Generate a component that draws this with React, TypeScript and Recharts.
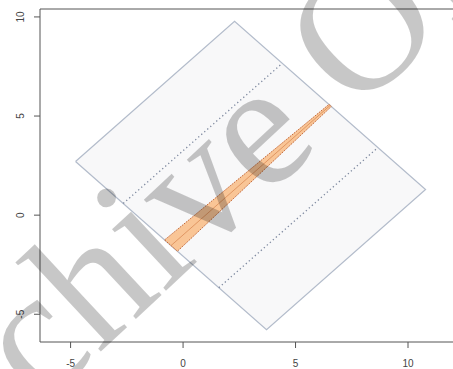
import { ComposedChart, Scatter, XAxis, YAxis } from "recharts";

const xDomain = [-6.36, 12.0];
const yDomain = [-6.4, 10.4];
const xTicks = [-5, 0, 5, 10];
const yTicks = [-5, 0, 5, 10];

// rotated rectangle (region)
const regionX = [-4.78, 2.29, 10.78, 3.71, -4.78];
const regionY = [2.71, 9.78, 1.29, -5.78, 2.71];

// orange wedge
const bandX = [-0.82, 6.49, 6.59, -0.25, -0.82];
const bandY = [-1.25, 5.59, 5.48, -1.82, -1.25];

// dotted guides
const upperGuideX = [-2.66, 4.41];
const upperGuideY = [0.59, 7.66];
const lowerGuideX = [1.59, 8.66];
const lowerGuideY = [-3.66, 3.41];

const midX = [-0.54, 6.54];
const midY = [-1.54, 5.54];

const watermark = "Archive Of";

const toPoints = (xs: number[], ys: number[]) =>
  xs.map((x, i) => ({ x, y: ys[i] }));

const axisColor = "#555";
const labelFont = "Liberation Sans, Arial, sans-serif";
const guideLine = {
  stroke: "#7f8aa0",
  strokeWidth: 1.3,
  strokeDasharray: "1.3 2.7",
};

function XTick({ x, y, payload }: any) {
  return (
    <text
      x={x}
      y={y + 17}
      textAnchor="middle"
      fontSize={10}
      fontFamily={labelFont}
      fill="#444"
    >
      {payload.value}
    </text>
  );
}

function YTick({ x, y, payload }: any) {
  const tx = x - 8;
  return (
    <text
      x={tx}
      y={y}
      textAnchor="middle"
      fontSize={10}
      fontFamily={labelFont}
      fill="#444"
      transform={`rotate(-90 ${tx} ${y})`}
    >
      {payload.value}
    </text>
  );
}

const noDot = () => <g />;

export default function App() {
  return (
    <div style={{ position: "absolute", left: 0, top: 0, width: 453, height: 369 }}>
      <ComposedChart
        width={453}
        height={369}
        margin={{ top: 0, right: 0, bottom: 0, left: 0 }}
      >
        <XAxis
          dataKey="x"
          type="number"
          domain={xDomain}
          ticks={xTicks}
          allowDataOverflow
          height={27}
          tick={<XTick />}
          tickSize={6}
          tickLine={{ stroke: axisColor }}
          axisLine={{ stroke: axisColor }}
        />
        <XAxis
          xAxisId="top"
          orientation="top"
          dataKey="x"
          type="number"
          domain={xDomain}
          allowDataOverflow
          height={9}
          tick={false}
          tickLine={false}
          axisLine={{ stroke: axisColor }}
        />
        <YAxis
          dataKey="y"
          type="number"
          domain={yDomain}
          ticks={yTicks}
          allowDataOverflow
          width={40}
          tick={<YTick />}
          tickSize={6}
          tickLine={{ stroke: axisColor }}
          axisLine={{ stroke: axisColor }}
        />
        <Scatter
          data={toPoints(regionX, regionY)}
          line={{ stroke: "#b3bccb", strokeWidth: 1.2, fill: "#f8f8f9" }}
          lineJointType="linear"
          shape={noDot}
          isAnimationActive={false}
        />
        <Scatter
          data={toPoints(upperGuideX, upperGuideY)}
          line={guideLine}
          lineJointType="linear"
          shape={noDot}
          isAnimationActive={false}
        />
        <Scatter
          data={toPoints(lowerGuideX, lowerGuideY)}
          line={guideLine}
          lineJointType="linear"
          shape={noDot}
          isAnimationActive={false}
        />
        <Scatter
          data={toPoints(bandX, bandY)}
          line={{
            stroke: "#c4693a",
            strokeWidth: 1,
            strokeDasharray: "1.5 1",
            fill: "#f9c596",
          }}
          lineJointType="linear"
          shape={noDot}
          isAnimationActive={false}
        />
        <Scatter
          data={toPoints(midX, midY)}
          line={{ stroke: "#d98a55", strokeWidth: 0.8 }}
          lineJointType="linear"
          shape={noDot}
          isAnimationActive={false}
        />
      </ComposedChart>
      <svg
        width={453}
        height={369}
        style={{ position: "absolute", left: 0, top: 0, pointerEvents: "none" }}
      >
        <text
          x={-97}
          y={536}
          fontSize={178}
          fontFamily="Liberation Serif, Times New Roman, serif"
          fill="#000"
          fillOpacity={0.22}
          transform="rotate(-43 -97 536)"
        >
          {watermark}
        </text>
      </svg>
    </div>
  );
}
